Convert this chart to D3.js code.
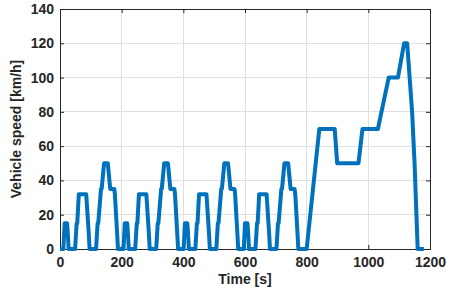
<!DOCTYPE html>
<html><head><meta charset="utf-8">
<script src="https://cdn.jsdelivr.net/npm/d3@7"></script>
<style>body{margin:0;background:#fff}svg{display:block}</style>
</head><body><svg id="c" width="451" height="292"></svg>
<script>
const timeS = [
  0,11,15,23,25,28,49,54,56,61,85,93,96,117,122,124,133,135,143,155,163,176,178,185,188,
  195,206,210,218,220,223,244,249,251,256,280,288,291,312,317,319,328,330,338,350,358,371,373,380,383,
  390,401,405,413,415,418,439,444,446,451,475,483,486,507,512,514,523,525,533,545,553,566,568,575,578,
  585,596,600,608,610,613,634,639,641,646,670,678,681,702,707,709,718,720,728,740,748,761,763,770,773,
  780,800,841,891,899,968,981,1031,1066,1096,1116,1126,1142,1150,1160,1180
];
const speedKmh = [
  0,0,15,15,10,0,0,15,15,32,32,10,0,0,15,15,35,35,50,50,35,35,32,10,0,
  0,0,15,15,10,0,0,15,15,32,32,10,0,0,15,15,35,35,50,50,35,35,32,10,0,
  0,0,15,15,10,0,0,15,15,32,32,10,0,0,15,15,35,35,50,50,35,35,32,10,0,
  0,0,15,15,10,0,0,15,15,32,32,10,0,0,15,15,35,35,50,50,35,35,32,10,0,
  0,0,70,70,50,50,70,70,100,100,120,120,80,50,0,0
];
const xTicks = [0,200,400,600,800,1000,1200];
const yTicks = [0,20,40,60,80,100,120,140];

const svg = d3.select("#c");
const L=60, R=430, T=9, B=249;
const x = d3.scaleLinear().domain([0,1200]).range([L,R]);
const y = d3.scaleLinear().domain([0,140]).range([B,T]);
const font = "'Liberation Sans', Arial, sans-serif";

// grid
svg.append("g").selectAll("line").data(xTicks).join("line")
  .attr("x1",d=>x(d)).attr("x2",d=>x(d)).attr("y1",T).attr("y2",B)
  .attr("stroke","#dfdfdf").attr("stroke-width",1).attr("shape-rendering","crispEdges");
svg.append("g").selectAll("line").data(yTicks).join("line")
  .attr("x1",L).attr("x2",R).attr("y1",d=>y(d)).attr("y2",d=>y(d))
  .attr("stroke","#dfdfdf").attr("stroke-width",1).attr("shape-rendering","crispEdges");

// axes
const fmt = d3.format("d");
const ax = svg.append("g").attr("transform",`translate(0,${B})`)
  .call(d3.axisBottom(x).tickValues(xTicks).tickSize(-4).tickPadding(8).tickFormat(fmt));
const ay = svg.append("g").attr("transform",`translate(${L},0)`)
  .call(d3.axisLeft(y).tickValues(yTicks).tickSize(-4).tickPadding(6).tickFormat(fmt));
const axT = svg.append("g").attr("transform",`translate(0,${T})`)
  .call(d3.axisTop(x).tickValues(xTicks).tickSize(-4).tickFormat(""));
const ayR = svg.append("g").attr("transform",`translate(${R},0)`)
  .call(d3.axisRight(y).tickValues(yTicks).tickSize(-4).tickFormat(""));
[ax,ay,axT,ayR].forEach(g=>{
  g.select(".domain").attr("stroke","#262626");
  g.selectAll(".tick line").attr("stroke","#262626");
  g.selectAll("text").attr("fill","#262626").style("font-family",font)
    .style("font-size","14px").style("font-weight","bold");
});

// line
svg.append("path").datum(timeS.map((t,i)=>[t,speedKmh[i]]))
  .attr("fill","none").attr("stroke","#0072BD").attr("stroke-width",4)
  .attr("stroke-linejoin","round")
  .attr("d", d3.line().x(d=>x(d[0])).y(d=>y(d[1])));

// labels
svg.append("text").attr("x",(L+R)/2).attr("y",284).attr("text-anchor","middle")
  .style("font-family",font).style("font-size","14px").style("font-weight","bold")
  .attr("fill","#262626").text("Time [s]");
svg.append("text").attr("transform",`translate(21,${(T+B)/2}) rotate(-90)`)
  .attr("text-anchor","middle")
  .style("font-family",font).style("font-size","14px").style("font-weight","bold")
  .attr("fill","#262626").text("Vehicle speed [km/h]");
</script></body></html>
